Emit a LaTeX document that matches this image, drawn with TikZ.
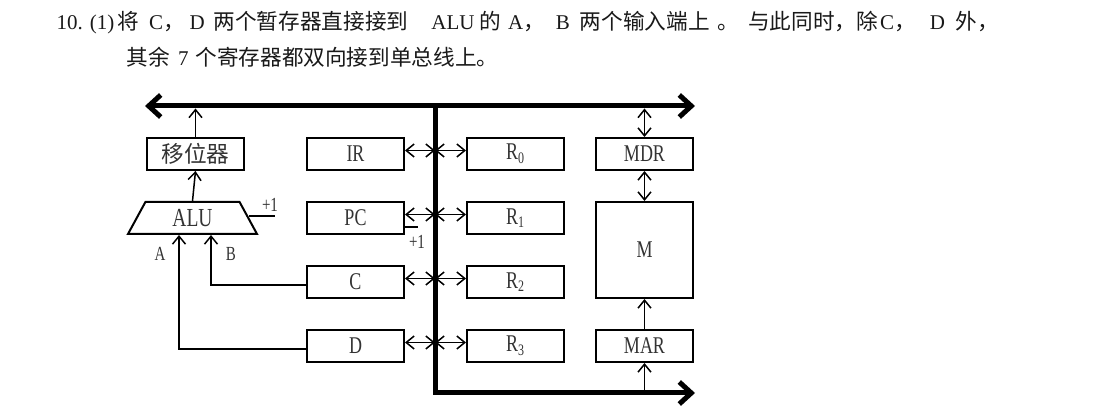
\documentclass[tikz,border=0pt]{standalone}
\usepackage{fontspec}
\setmainfont{Liberation Serif}
\newfontfamily\cjk[Scale=1.03]{Noto Sans CJK SC}
\newfontfamily\narrow[FakeStretch=0.75]{Liberation Serif}
\usetikzlibrary{arrows.meta,shapes.geometric}
\begin{document}
\begin{tikzpicture}[x=0.5pt,y=-0.5pt,line join=miter,line width=0.75pt,>={Straight Barb[length=4pt,width=6.5pt]}]
  \tikzstyle{reg}=[draw,line width=1pt,minimum width=48.5pt,minimum height=16pt,inner sep=0pt,text=black!80,font=\narrow\fontsize{12}{12}\selectfont]
  \tikzstyle{bus}=[line width=2.5pt,>={Straight Barb[length=6pt,width=11pt]}]
  \tikzstyle{lbl}=[inner sep=0pt,text=black!80,font=\narrow\fontsize{10}{10}\selectfont]
  \tikzstyle{title}=[anchor=west,inner sep=0pt,text=black!90,font=\fontsize{10.5}{12}\selectfont]
  \useasboundingbox (0,0) rectangle (1110,415);
  % text above
  \node[title] (T_1) at (56,23) {10. (1)\hspace{1.5pt}{\cjk 将}\hspace{5pt}C{\cjk ，}\hspace{2.4pt}D\hspace{4.5pt}{\cjk 两个暂存器直接接到}\hspace{11.5pt}ALU\hspace{2.5pt}{\cjk 的}\hspace{3.5pt}A{\cjk ，}\hspace{5.5pt}B\hspace{5pt}{\cjk 两个输入端上}\hspace{4pt}{\cjk 。}\hspace{4.5pt}{\cjk 与此同时，除}\hspace{1pt}C{\cjk ，}\hspace{7pt}D\hspace{5.5pt}{\cjk 外，}};
  \node[title] (T_2) at (126,57) {{\cjk 其余}\hspace{4pt}7\hspace{3.5pt}{\cjk 个寄存器都双向接到单总线上。}};
  % bus
  \coordinate (B_l) at (145,106);
  \coordinate (B_r) at (695,106);
  \coordinate (B_t) at (435,106);
  \coordinate (B_c) at (435,393);
  \coordinate (B_e) at (695,393);
  \draw[bus,<->] (B_l) -- (B_r);
  \draw[bus,->] (B_t) -- (B_c) -- (B_e);
  % registers
  \node[reg] (SH)  at (195.5,154) {\cjk\fontsize{11}{11}\selectfont 移位器};
  \node[reg] (IR)  at (355.5,154) {IR};
  \node[reg] (PC)  at (355.5,218) {PC};
  \node[reg] (C)   at (355.5,282) {C};
  \node[reg] (D)   at (355.5,346) {D};
  \node[reg] (R_0) at (515.5,154) {R\textsubscript{0}};
  \node[reg] (R_1) at (515.5,218) {R\textsubscript{1}};
  \node[reg] (R_2) at (515.5,282) {R\textsubscript{2}};
  \node[reg] (R_3) at (515.5,346) {R\textsubscript{3}};
  \node[reg] (MDR) at (644.5,154) {MDR};
  \node[reg,minimum height=48pt] (M) at (644.5,250) {M};
  \node[reg] (MAR) at (644.5,346) {MAR};
  \node[reg,trapezium,trapezium left angle=45,trapezium right angle=45,trapezium stretches body,minimum width=64.5pt,font=\narrow\fontsize{13}{13}\selectfont] (ALU) at (192.5,218) {ALU};
  % links to the bus
  \foreach \r/\s in {IR/R_0, PC/R_1, C/R_2, D/R_3} {
    \draw[<->] ([yshift=1.75pt]\r.east) -- ([yshift=1.75pt]\r.east -| B_t);
    \draw[<->] ([yshift=1.75pt]\r.east -| B_t) -- ([yshift=1.75pt]\s.west);
  }
  \draw[->] (ALU.north) -- (SH.south);
  \draw[->] (SH.north) -- ([yshift=-1.25pt]SH.north |- B_t);
  \draw[->] ([yshift=-1.5pt]C.west) -| ([xshift=9.25pt]ALU.south);
  \draw[->] ([yshift=-1.5pt]D.west) -| ([xshift=-6.75pt]ALU.south);
  \node[lbl] (A) at (160,254) {A};
  \node[lbl] (B) at (231,254) {B};
  \coordinate (ALU_i) at (275,216);
  \draw (ALU.east |- ALU_i) -- (ALU_i);
  \node[lbl] (ALU_p) at (270,205) {+1};
  \coordinate (PC_i) at (418,227);
  \draw (PC.east |- PC_i) -- (PC_i);
  \node[lbl] (PC_p) at (417,242) {+1};
  \draw[<->] ([yshift=-1.25pt]MDR.north |- B_t) -- (MDR.north);
  \draw[<->] (MDR.south) -- (M.north);
  \draw[->] (MAR.north) -- (M.south);
  \draw[->] (MAR.south |- B_c) -- (MAR.south);
\end{tikzpicture}
\end{document}
